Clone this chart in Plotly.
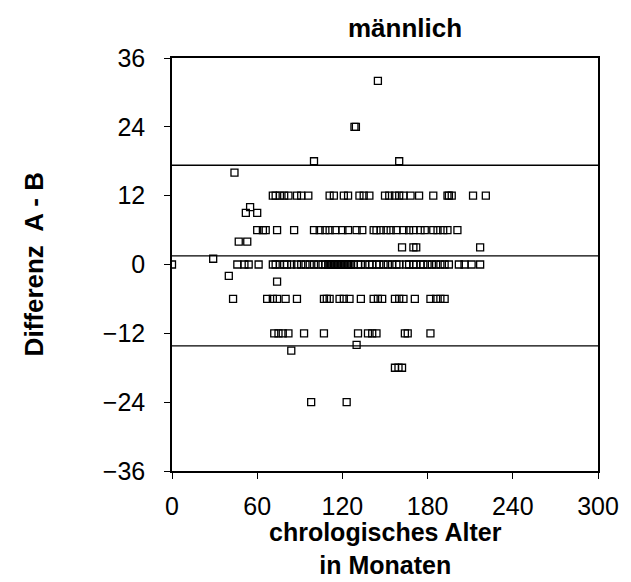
import plotly.graph_objects as go

# ---- data (age in months, difference A - B) ----
row_p12_age = [71, 73, 76, 79, 82, 88, 91, 96, 111, 114, 121, 124, 132, 135, 139,
               150, 153, 157, 160, 163, 168, 174, 184, 194, 195, 197, 212, 221]
row_p6_age = [60, 64, 66, 74, 86, 100, 104, 108, 111, 115, 120, 124, 130, 134, 142,
              144, 147, 151, 154, 158, 163, 167, 170, 175, 178, 184, 187, 191, 194, 201]
row_0_age = [0, 46, 51, 54, 61, 71, 73, 76, 79, 81, 84, 88, 91, 94, 97, 100, 103, 106,
             108, 110, 111, 112, 113, 114, 115, 116, 117, 118, 119, 120, 121, 122, 123,
             124, 125, 126, 128, 131, 133, 136, 139, 141, 144, 146, 149, 152, 155, 158,
             160, 165, 167, 170, 172, 175, 177, 180, 183, 186, 189, 192, 195, 202, 206,
             211, 217]
row_m6_age = [43, 67, 71, 74, 80, 88, 107, 109, 111, 118, 121, 125, 133, 142, 145, 148,
              157, 160, 163, 171, 182, 186, 189, 192]
row_m12_age = [72, 75, 78, 82, 93, 107, 131, 138, 141, 144, 164, 166, 182]

other_age = [145, 128.5, 129.5, 100, 160, 44, 52, 55, 60, 47, 53, 162, 170, 172, 217,
             29, 40, 74, 84, 130, 157, 159.5, 162, 98, 123]
other_diff = [32, 24, 24, 18, 18, 16, 9, 10, 9, 4, 4, 3, 3, 3, 3,
              1, -2, -3, -15, -14, -18, -18, -18, -24, -24]

limit_lines = [17.3, 1.5, -14.2]   # upper limit, mean, lower limit
x_range = [0, 300]
x_ticks = [0, 60, 120, 180, 240, 300]
y_ticks = [-36, -24, -12, 0, 12, 24, 36]

ages = (row_p12_age + row_p6_age + row_0_age + row_m6_age + row_m12_age + other_age)
diffs = ([12] * len(row_p12_age) + [6] * len(row_p6_age) + [0] * len(row_0_age)
         + [-6] * len(row_m6_age) + [-12] * len(row_m12_age) + other_diff)

FONT = "Liberation Sans, Arial, sans-serif"

fig = go.Figure()
for v in limit_lines:
    fig.add_trace(go.Scatter(x=x_range, y=[v, v], mode="lines",
                             line=dict(color="black", width=1.3),
                             hoverinfo="skip", showlegend=False))
fig.add_trace(go.Scatter(x=ages, y=diffs, mode="markers",
                         marker=dict(symbol="square-open", size=7, color="black",
                                     line=dict(width=1.3, color="black")),
                         showlegend=False))

fig.update_layout(
    width=631, height=582,
    margin=dict(l=172, r=21, t=58, b=111),
    paper_bgcolor="white", plot_bgcolor="white",
    font=dict(family=FONT, color="black", size=25),
    annotations=[
        dict(text="<b>männlich</b>", xref="paper", yref="paper",
             x=(412 - 172) / 438, y=(58 - 28) / 413 + 1, xanchor="center",
             yanchor="middle", showarrow=False, borderpad=0, font=dict(size=26)),
        dict(text="<b>chrologisches Alter<br>in Monaten</b>", xref="paper", yref="paper",
             x=0.5, y=(471 - 548) / 413, xanchor="center", yanchor="middle",
             showarrow=False, borderpad=0, font=dict(size=25)),
        dict(text="<b>Differenz  A - B</b>", xref="paper", yref="paper",
             x=(30 - 172) / 438, y=0.5, xanchor="center", yanchor="middle",
             textangle=-90, showarrow=False, borderpad=0, font=dict(size=26)),
    ],
)
fig.update_xaxes(range=x_range, tickvals=x_ticks, ticks="outside", ticklen=6,
                 tickwidth=1.3, tickcolor="black", showline=True, linecolor="black",
                 linewidth=1.5, mirror=True, showgrid=False, zeroline=False,
                 ticklabelstandoff=6, tickfont=dict(size=25))
fig.update_yaxes(range=[-36, 36], tickvals=y_ticks, ticks="outside", ticklen=6,
                 tickwidth=1.3, tickcolor="black", showline=True, linecolor="black",
                 linewidth=1.5, mirror=True, showgrid=False, zeroline=False,
                 ticklabelstandoff=14, tickfont=dict(size=25))

fig.write_html("out.html")
